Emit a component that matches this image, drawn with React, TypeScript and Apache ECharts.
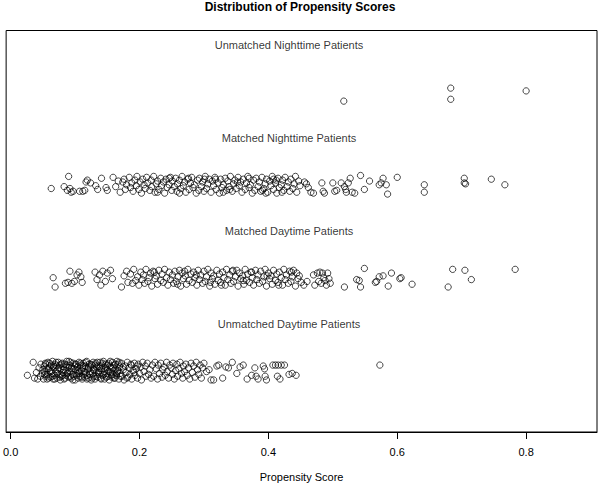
import React, { useEffect, useRef } from "react";
import * as echarts from "echarts";

// Group names, bottom (1) to top (4)
const groupNames = [
  "Unmatched Daytime Patients",
  "Matched Daytime Patients",
  "Matched Nighttime Patients",
  "Unmatched Nighttime Patients",
];

const xTicks = [0, 0.2, 0.4, 0.6, 0.8];

// [propensity score, vertical jitter in hundredths of a strip unit]
const unmatchedNight: number[][] = [[0.517, -10], [0.683, 4], [0.683, -8], [0.8, 1]];

const matchedNight: number[][] = [
  [0.063,-4],[0.083,-2],[0.090,9],[0.088,-6],[0.092,-4],[0.094,-8],[0.097,-7],[0.107,-7],[0.112,-7],[0.115,-6],
  [0.117,3],[0.119,5],[0.124,2],[0.132,-1],[0.135,-5],[0.141,7],[0.148,-3],[0.150,-6],[0.159,8],[0.163,-2],
  [0.167,4],[0.170,-8],[0.174,3],[0.176,6],[0.178,-5],[0.180,0],
  [0.184,8],[0.186,-3],[0.188,2],[0.190,-7],[0.193,5],[0.195,-1],[0.196,9],[0.199,-5],[0.201,3],[0.203,-9],
  [0.205,6],[0.207,0],[0.209,-4],[0.211,8],[0.213,2],[0.216,-6],[0.218,5],[0.219,-2],[0.222,9],[0.224,-8],
  [0.226,1],[0.228,4],[0.230,-5],[0.233,7],[0.234,-1],[0.237,3],[0.239,-9],[0.241,6],[0.243,-3],[0.246,0],
  [0.248,8],[0.250,-6],[0.251,4],[0.254,-2],[0.256,7],[0.258,-7],[0.259,1],[0.262,5],[0.264,-4],[0.266,9],
  [0.268,-1],[0.270,3],[0.272,-8],[0.275,6],[0.277,-5],[0.279,2],[0.281,8],[0.283,-3],[0.285,0],[0.288,-9],
  [0.290,5],[0.292,-6],[0.293,7],[0.296,-2],[0.298,3],[0.300,-7],[0.302,9],[0.304,-4],[0.306,1],[0.308,6],
  [0.311,-8],[0.313,4],[0.315,-1],[0.317,8],[0.319,-5],[0.322,2],[0.324,-9],[0.326,6],[0.328,-3],[0.330,0],
  [0.333,7],[0.335,-6],[0.337,4],[0.339,-2],[0.341,9],[0.344,-7],[0.346,1],[0.348,5],[0.350,-4],[0.353,8],
  [0.355,-1],[0.357,3],[0.359,-8],[0.361,6],[0.364,-5],[0.366,2],[0.368,9],[0.370,-3],[0.372,0],[0.375,-9],
  [0.377,5],[0.379,-6],[0.381,7],[0.384,-2],[0.386,3],[0.388,-7],[0.390,8],[0.393,-4],[0.395,1],[0.397,6],
  [0.399,-8],[0.402,4],[0.404,-1],[0.406,9],[0.408,-5],[0.411,2],[0.413,-9],[0.415,7],[0.417,-3],[0.420,0],
  [0.422,5],[0.424,-6],[0.426,8],[0.429,-2],[0.431,3],[0.433,-7],[0.435,6],[0.438,-4],[0.440,1],[0.442,9],
  [0.444,-8],[0.447,4],[0.449,-1],
  [0.228,-8],[0.262,-9],[0.276,7],[0.318,6],[0.330,-8],[0.352,3],[0.370,7],[0.391,-6],[0.396,-9],[0.408,6],
  [0.412,5],[0.421,-8],[0.246,7],[0.301,6],[0.340,-5],
  [0.456,3],[0.459,1],[0.462,-3],[0.466,-8],[0.470,-9],[0.483,2],[0.485,-7],[0.487,-9],[0.500,2],[0.503,-7],
  [0.506,-6],[0.513,2],[0.518,-2],[0.520,-5],[0.521,-8],[0.524,2],[0.527,7],[0.530,-8],[0.534,-9],[0.543,10],
  [0.549,-5],[0.557,4],[0.572,0],[0.575,2],[0.578,7],[0.583,0],[0.585,-10],[0.600,8],[0.642,0],[0.642,-8],
  [0.704,7],[0.704,2],[0.706,1],[0.746,6],[0.767,0],
];

const matchedDay: number[][] = [
  [0.066,0],[0.069,-10],[0.085,-6],[0.089,-5],[0.092,7],[0.095,-6],[0.099,-4],[0.103,3],[0.106,6],[0.109,1],
  [0.111,-5],[0.131,6],[0.134,-2],[0.138,3],[0.140,-8],[0.143,7],[0.147,-4],[0.150,5],[0.155,8],[0.158,-1],
  [0.172,-10],[0.176,2],[0.180,7],[0.182,-5],[0.186,4],[0.189,-6],[0.191,9],[0.194,-3],
  [0.197,1],[0.199,-8],[0.202,6],[0.204,-2],[0.206,3],[0.208,-6],[0.210,9],[0.213,-4],[0.215,0],[0.217,5],
  [0.219,-9],[0.221,7],[0.224,-1],[0.226,2],[0.228,-7],[0.230,8],[0.233,-3],[0.235,4],[0.237,-5],[0.239,9],
  [0.242,0],[0.244,-8],[0.246,6],[0.248,-2],[0.251,3],[0.253,-6],[0.255,7],[0.257,-4],[0.260,1],[0.262,8],
  [0.264,-9],[0.266,5],[0.268,-1],[0.271,2],[0.273,-7],[0.275,9],[0.277,-3],[0.280,4],[0.282,-5],[0.284,6],
  [0.286,0],[0.289,-8],[0.291,8],[0.293,-2],[0.295,3],[0.298,-6],[0.300,7],[0.302,-4],[0.304,1],[0.306,9],
  [0.309,-9],[0.311,5],[0.313,-1],[0.315,2],[0.317,-7],[0.320,8],[0.322,-3],[0.324,4],[0.326,-5],[0.329,6],
  [0.331,0],[0.333,-8],[0.335,9],[0.337,-2],[0.340,3],[0.342,-6],[0.344,7],[0.346,-4],[0.349,1],[0.351,8],
  [0.353,-9],[0.355,5],[0.357,-1],[0.360,2],[0.362,-7],[0.364,9],[0.366,-3],[0.368,4],[0.371,-5],[0.373,6],
  [0.375,0],[0.377,-8],[0.380,8],[0.382,-2],[0.384,3],[0.386,-6],[0.388,7],[0.391,-4],[0.393,1],[0.395,9],
  [0.397,-9],[0.400,5],[0.402,-1],[0.404,2],[0.406,-7],[0.408,8],[0.411,-3],[0.413,4],[0.415,-5],[0.417,6],
  [0.420,0],[0.422,-8],[0.424,9],[0.426,-2],[0.428,3],[0.431,-6],[0.433,7],[0.435,-4],[0.437,1],[0.439,8],
  [0.442,-9],[0.444,5],[0.446,-1],[0.448,2],
  [0.223,6],[0.259,-7],[0.270,7],[0.288,3],[0.310,-5],[0.327,-8],[0.345,8],[0.361,-3],[0.374,6],[0.398,2],
  [0.416,-8],[0.436,6],
  [0.451,-5],[0.455,-8],[0.460,-4],[0.470,3],[0.472,-8],[0.476,5],[0.478,-4],[0.480,6],[0.482,-6],[0.484,5],
  [0.486,0],[0.488,-3],[0.490,-8],[0.492,5],[0.494,-1],[0.496,-6],[0.518,-10],[0.537,-2],[0.541,-3],[0.543,-10],
  [0.549,10],[0.566,-5],[0.568,-4],[0.572,1],[0.578,2],[0.586,-9],[0.591,5],[0.604,-1],[0.606,0],[0.623,-7],
  [0.679,-10],[0.686,9],[0.705,8],[0.715,-2],[0.783,9],
];

const unmatchedDay: number[][] = [
  [0.026,-5],[0.035,9],[0.037,-8],[0.040,-2],[0.042,-9],[0.044,3],[0.046,-6],[0.047,7],[0.049,-3],[0.050,1],
  [0.051,-9],[0.052,5],[0.053,-1],[0.054,8],[0.055,-6],[0.056,2],[0.057,-4],[0.058,9],[0.059,-8],[0.060,4],
  [0.061,0],[0.062,-7],[0.063,6],[0.064,-3],[0.065,10],[0.066,-9],[0.067,3],[0.068,-5],[0.069,7],[0.070,-1],
  [0.071,5],[0.072,-8],[0.073,1],[0.074,9],[0.075,-4],[0.076,6],[0.077,-10],[0.078,2],[0.079,-6],[0.080,8],
  [0.081,-2],[0.082,4],[0.083,-9],[0.084,7],[0.085,0],[0.086,-5],[0.087,10],[0.088,-3],[0.089,3],[0.090,-7],
  [0.091,6],[0.092,-1],[0.093,9],[0.094,-8],[0.095,2],[0.096,-4],[0.097,8],[0.098,-6],[0.099,5],[0.100,-10],
  [0.101,1],[0.102,7],[0.103,-3],[0.104,4],[0.105,-8],[0.106,9],[0.107,-1],[0.108,-6],[0.109,6],[0.110,0],
  [0.111,-9],[0.112,3],[0.113,8],[0.114,-4],[0.115,-7],[0.116,5],[0.117,-2],[0.118,10],[0.119,-5],[0.120,2],
  [0.121,-8],[0.122,7],[0.123,-1],[0.124,4],[0.125,-10],[0.126,6],[0.127,-3],[0.128,9],[0.129,-6],[0.130,1],
  [0.131,-9],[0.132,8],[0.133,-2],[0.134,3],[0.135,-7],[0.136,5],[0.137,0],[0.138,-4],[0.139,9],[0.140,-8],
  [0.141,2],[0.142,6],[0.143,-5],[0.144,10],[0.145,-1],[0.146,-9],[0.147,4],[0.148,7],[0.149,-3],[0.150,1],
  [0.151,-6],[0.152,8],[0.153,-10],[0.154,5],[0.155,-2],[0.156,3],[0.157,-7],[0.158,9],[0.159,-4],[0.160,0],
  [0.161,6],[0.162,-8],[0.163,2],[0.164,-5],[0.165,10],[0.166,-1],[0.167,7],[0.168,-9],[0.169,4],[0.170,-3],
  [0.172,8],[0.173,-6],[0.175,1],[0.176,-10],[0.178,5],[0.179,-2],[0.181,9],[0.182,-7],[0.184,3],[0.185,-4],
  [0.187,6],[0.188,-9],[0.190,0],[0.192,8],[0.193,-5],[0.195,2],[0.197,-8],[0.198,7],[0.200,-3],[0.202,4],
  [0.203,-10],[0.205,9],[0.207,-1],[0.209,5],[0.210,-6],[0.212,8],[0.214,-4],[0.216,1],[0.218,-8],[0.220,6],
  [0.0525,-4],[0.0545,7],[0.0565,-9],[0.0585,2],[0.0605,8],[0.0625,-1],[0.0645,-6],[0.0665,5],[0.0685,-9],[0.0705,9],
  [0.0725,-3],[0.0745,3],[0.0765,-7],[0.0785,7],[0.0805,-5],[0.0825,1],[0.0845,-8],[0.0865,6],[0.0885,-2],[0.0905,10],
  [0.0925,-6],[0.0945,4],[0.0965,-10],[0.0985,2],[0.1005,7],[0.1025,-5],[0.1045,0],[0.1065,-3],[0.1085,8],[0.1105,-7],
  [0.1125,5],[0.1145,-1],[0.1165,9],[0.1185,-9],[0.1205,3],[0.1225,-4],[0.1245,7],[0.1265,-8],[0.1285,1],[0.1305,6],
  [0.1325,-6],[0.1345,9],[0.1365,-2],[0.1385,4],[0.1405,-9],[0.1425,8],[0.1445,-4],[0.1465,2],[0.1485,-7],[0.1505,6],
  [0.1525,-1],[0.1545,10],[0.1565,-5],[0.1585,3],[0.1605,-8],[0.1625,7],[0.1645,-3],[0.1665,0],[0.1685,9],[0.1705,-6],
  [0.1745,4],[0.1805,-8],[0.1865,7],[0.1915,-2],[0.1965,5],
  [0.222,-6],[0.224,9],[0.226,2],[0.228,-9],[0.229,6],[0.231,-3],[0.233,8],[0.235,-7],[0.236,1],[0.238,4],
  [0.240,-5],[0.242,9],[0.243,-1],[0.245,-8],[0.247,6],[0.249,3],[0.251,-4],[0.252,8],[0.254,-9],[0.256,0],
  [0.258,7],[0.259,-6],[0.261,2],[0.263,9],[0.265,-3],[0.267,-8],[0.268,5],[0.270,-1],[0.272,7],[0.274,-5],
  [0.276,3],[0.278,-9],[0.280,8],[0.282,-2],[0.284,5],[0.286,-7],[0.288,9],[0.290,1],[0.292,-4],[0.294,6],
  [0.296,-8],[0.298,3],[0.300,8],
  [0.304,-1],[0.308,1],[0.311,-10],[0.315,-10],[0.320,5],[0.323,6],[0.329,-8],[0.334,4],[0.338,3],[0.344,9],
  [0.351,-3],[0.356,4],[0.361,6],[0.367,-9],[0.374,-5],[0.379,3],[0.381,-6],[0.384,-9],[0.392,5],[0.394,2],
  [0.395,-6],[0.397,-10],[0.407,6],[0.411,6],[0.415,6],[0.420,6],[0.425,6],[0.414,-6],[0.418,-9],[0.432,-4],
  [0.437,-3],[0.443,-5],
  [0.573,6],
];

const groups = [unmatchedDay, matchedDay, matchedNight, unmatchedNight];
const labelX = 0.432;

const FONT = "'Liberation Sans', Arial, Helvetica, sans-serif";

export default function App() {
  const ref = useRef<HTMLDivElement>(null);
  useEffect(() => {
    if (!ref.current) return;
    const chart = echarts.init(ref.current, undefined, { renderer: "svg" });
    const pointSeries = groups.map((g, i) => ({
      type: "scatter",
      symbol: "circle",
      symbolSize: 6.3,
      silent: true,
      itemStyle: { color: "rgba(0,0,0,0)", borderColor: "#000", borderWidth: 0.9 },
      data: g.map(([x, j]) => [x, i + 1 + j * 0.01]),
    }));
    const labelSeries = {
      type: "scatter",
      symbolSize: 0,
      silent: true,
      data: groupNames.map((n, i) => ({ value: [labelX, i + 1.5], name: n })),
      label: {
        show: true,
        position: "inside",
        formatter: (p: any) => p.name,
        color: "#000",
        fontSize: 11,
        fontFamily: FONT,
      },
    };
    chart.setOption({
      animation: false,
      backgroundColor: "#fff",
      title: {
        text: "Distribution of Propensity Scores",
        left: "center",
        top: 1,
        padding: 0,
        textStyle: { fontSize: 12, fontWeight: "bold", color: "#000", fontFamily: FONT },
      },
      grid: {
        left: 3.5,
        right: 3,
        top: 30.5,
        bottom: 51,
        show: true,
        borderColor: "#000",
        borderWidth: 1,
        backgroundColor: "transparent",
      },
      xAxis: {
        type: "value",
        min: -0.007,
        max: 0.91,
        name: "Propensity Score",
        nameLocation: "middle",
        nameGap: 39,
        nameTextStyle: { fontSize: 11, color: "#000", fontFamily: FONT },
        axisLine: { show: true, onZero: false, lineStyle: { color: "#000", width: 1 } },
        axisTick: { show: true, customValues: xTicks, length: 7, lineStyle: { color: "#000" } },
        axisLabel: {
          customValues: xTicks,
          formatter: (v: number) => v.toFixed(1),
          fontSize: 11,
          color: "#000",
          margin: 14,
          fontFamily: FONT,
        },
        splitLine: { show: false },
      },
      yAxis: {
        type: "value",
        min: 0.34,
        max: 4.66,
        show: false,
        splitLine: { show: false },
      },
      series: [...pointSeries, labelSeries],
    });
    return () => chart.dispose();
  }, []);
  return (
    <div
      ref={ref}
      style={{ position: "absolute", left: 0, top: 0, width: 600, height: 487 }}
    />
  );
}
